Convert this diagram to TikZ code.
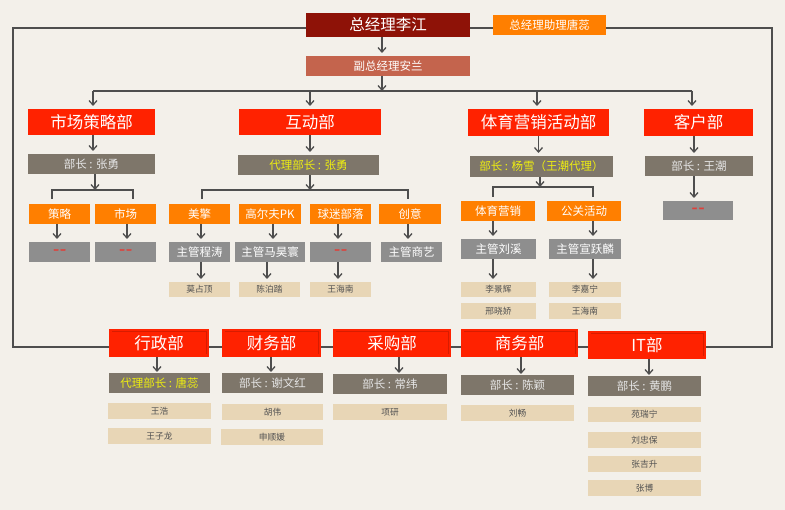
\documentclass[tikz,border=0pt]{standalone}
\usepackage{fontspec}
\setmainfont{Noto Sans CJK SC}
\usetikzlibrary{arrows.meta}
\definecolor{bgc}{HTML}{F3F0EA}
\definecolor{ceoc}{HTML}{8E1207}
\definecolor{orgc}{HTML}{FF7F00}
\definecolor{vpc}{HTML}{C4644D}
\definecolor{redc}{HTML}{FF2200}
\definecolor{redd}{HTML}{D81C00}
\definecolor{headc}{HTML}{7E766A}
\definecolor{grayc}{HTML}{8E8E8E}
\definecolor{beigec}{HTML}{E8D6B6}
\definecolor{linec}{HTML}{4E4E4E}
\definecolor{yelc}{HTML}{EEEE10}
\definecolor{dashc}{HTML}{E0403A}
\newcommand\bx[6]{\node[#1,minimum width=#4pt,minimum height=#5pt] (#2) at (#3) {#6};}
\newcommand\dd{\fontsize{17}{17}\selectfont\addfontfeature{FakeBold=1.5}-\kern1pt-}
\begin{document}
\begin{tikzpicture}[x=1pt,y=-1pt,
 base/.style={inner sep=0pt,outer sep=0pt,anchor=center},
 ceobox/.style={base,fill=ceoc,text=white,font=\fontsize{15.5}{16}\selectfont},
 orbox/.style={base,fill=orgc,text=white,font=\fontsize{11.5}{12}\selectfont},
 vpbox/.style={base,fill=vpc,text=white,font=\fontsize{11.5}{12}\selectfont},
 deptbox/.style={base,fill=redc,text=white,font=\fontsize{16.5}{17}\selectfont},
 bdeptbox/.style={deptbox,path picture={\draw[redd,line width=0.8pt] ([shift={(3pt,-2.5pt)}]path picture bounding box.north west) -| ([shift={(-2.5pt,2.5pt)}]path picture bounding box.south east);}},
 headbox/.style={base,fill=headc,text=white!90!black,font=\fontsize{11.5}{12}\selectfont},
 yheadbox/.style={headbox,text=yelc},
 graybox/.style={base,fill=grayc,text=white,font=\fontsize{11.5}{12}\selectfont},
 dashbox/.style={graybox,text=dashc},
 namebox/.style={base,fill=beigec,text=black!68,font=\fontsize{8.7}{9}\selectfont},
 ln/.style={draw=linec,line width=1.3pt},
 arr/.style={ln,-{Straight Barb[length=4.5pt,width=8pt]}},
 arrg/.style={arr,shorten >=3pt},
]
\path[use as bounding box,fill=bgc] (0,0) rectangle (785,510);

% top
\bx{ceobox}{ceo}{388,25}{164}{24}{总经理李江}
\bx{orbox}{asst}{549.5,25}{113}{20}{总经理助理唐蕊}
\bx{vpbox}{vp}{388,66}{164}{20}{副总经理安兰}

% departments
\bx{deptbox}{mkt}{91.5,122}{127}{26}{市场策略部}
\bx{deptbox}{hd}{310,122}{142}{26}{互动部}
\bx{deptbox}{sp}{538.5,122.5}{141}{27}{体育营销活动部}
\bx{deptbox}{kh}{698.5,122.5}{109}{27}{客户部}

\bx{headbox}{mkth}{91.5,164}{127}{20}{部长 : 张勇}
\bx{yheadbox}{hdh}{308.5,165}{141}{20}{代理部长 : 张勇}
\bx{yheadbox}{sph}{541.5,166.5}{143}{21}{部长 : 杨雪（王潮代理）}
\bx{headbox}{khh}{699,166}{108}{20}{部长 : 王潮}

% market subs
\bx{orbox}{celue}{59.5,214}{61}{20}{策略}
\bx{orbox}{shic}{125.5,214}{61}{20}{市场}
\bx{dashbox}{cld}{59.5,252}{61}{20}{\dd}
\bx{dashbox}{scd}{125.5,252}{61}{20}{\dd}

% interaction subs
\bx{orbox}{mq}{199.5,214}{61}{20}{美擎}
\bx{orbox}{gef}{270,214}{62}{20}{高尔夫PK}
\bx{orbox}{qm}{340.5,214}{61}{20}{球迷部落}
\bx{orbox}{cy}{410,214}{62}{20}{创意}
\bx{graybox}{mqg}{199.5,252}{61}{20}{主管程涛}
\bx{graybox}{gefg}{270,252}{70}{20}{主管马昊寰}
\bx{dashbox}{qmg}{340.5,252}{61}{20}{\dd}
\bx{graybox}{cyg}{411.5,252}{61}{20}{主管商艺}
\bx{namebox}{mqn}{199.5,289.5}{61}{15}{莫占顶}
\bx{namebox}{gefn}{269.5,289.5}{61}{15}{陈泊踏}
\bx{namebox}{qmn}{340.5,289.5}{61}{15}{王海南}

% sports subs
\bx{orbox}{tyyx}{498,211}{74}{20}{体育营销}
\bx{orbox}{ggd}{584,211}{74}{20}{公关活动}
\bx{graybox}{lx}{498.5,249}{75}{20}{主管刘溪}
\bx{graybox}{xyl}{585,249}{72}{20}{主管宣跃麟}
\bx{namebox}{lx1}{498.5,289.5}{75}{15}{李景辉}
\bx{namebox}{lx2}{498.5,311}{75}{16}{邢晓娇}
\bx{namebox}{xy1}{585,289.5}{72}{15}{李嘉宁}
\bx{namebox}{xy2}{585,311}{72}{16}{王海南}

% client sub
\bx{dashbox}{khd}{698,210.5}{70}{19}{\dd}

% bottom row
\bx{bdeptbox}{xz}{159,343}{100}{28}{行政部}
\bx{bdeptbox}{cw}{271.5,343}{99}{28}{财务部}
\bx{bdeptbox}{cg}{392,343}{118}{28}{采购部}
\bx{bdeptbox}{sw}{519.5,343}{117}{28}{商务部}
\bx{bdeptbox}{it}{647,345}{118}{28}{IT部}

\bx{yheadbox}{xzh}{159.5,383}{101}{20}{代理部长 : 唐蕊}
\bx{headbox}{cwh}{272.5,383}{101}{20}{部长 : 谢文红}
\bx{headbox}{cgh}{390,384}{114}{20}{部长 : 常纬}
\bx{headbox}{swh}{517.5,385}{113}{20}{部长 : 陈颖}
\bx{headbox}{ith}{644.5,386}{113}{20}{部长 : 黄鹏}

\bx{namebox}{xz1}{159.5,411}{103}{16}{王浩}
\bx{namebox}{xz2}{159.5,436}{103}{16}{王子龙}
\bx{namebox}{cw1}{272.5,412}{101}{16}{胡伟}
\bx{namebox}{cw2}{272,437}{102}{16}{申顺媛}
\bx{namebox}{cg1}{390,412}{114}{16}{项研}
\bx{namebox}{sw1}{517.5,413}{113}{16}{刘畅}
\bx{namebox}{it1}{644.5,414.5}{113}{15}{苑瑞宁}
\bx{namebox}{it2}{644.5,440}{113}{16}{刘忠保}
\bx{namebox}{it3}{644.5,464}{113}{16}{张吉升}
\bx{namebox}{it4}{644.5,488}{113}{16}{张博}

% frame
\coordinate (fl1) at (13,28);
\coordinate (fl2) at (13,347);
\coordinate (fr1) at (772,28);
\coordinate (fr2) at (772,347);
\draw[ln] ([yshift=-3pt]ceo.west) -- (fl1) -- (fl2) -- (xz.west |- fl2);
\draw[ln] ([yshift=-3pt]ceo.east) -- ([yshift=-3pt]asst.west);
\draw[ln] ([yshift=-3pt]asst.east) -- (fr1) -- (fr2) -- (it.east |- fr2);
\draw[ln] (xz.east |- fl2) -- (cw.west |- fl2);
\draw[ln] (cw.east |- fl2) -- (cg.west |- fl2);
\draw[ln] (cg.east |- fl2) -- (sw.west |- fl2);
\draw[ln] (sw.east |- fl2) -- (it.west |- fl2);

% top arrows and bus
\coordinate (busL) at (93,91);
\coordinate (busR) at (692,91);
\draw[arrg] ([xshift=-6pt]ceo.south) -- ([xshift=-6pt]vp.north);
\draw[arr] ([xshift=-6pt]vp.south) -- ([xshift=-6pt]vp.south |- busL);
\draw[ln] (busL) -- (busR);
\draw[arrg] (busL) -- (busL |- mkt.north);
\draw[arrg] (hd.north |- busL) -- (hd.north);
\draw[arrg] ([xshift=-1.5pt]sp.north |- busL) -- ([xshift=-1.5pt]sp.north);
\draw[arrg] (busR) -- (busR |- kh.north);

% dept -> head
\draw[arrg] ([xshift=1.5pt]mkt.south) -- ([xshift=1.5pt]mkt.south |- mkth.north);
\draw[arrg] (hd.south) -- (hd.south |- hdh.north);
\draw[arrg] (sp.south) -- (sp.south |- sph.north);
\draw[arrg] ([xshift=-4.5pt]kh.south) -- ([xshift=-4.5pt]kh.south |- khh.north);
\draw[arrg] ([xshift=-5pt]khh.south) -- ([xshift=-5pt]khh.south |- khd.north);

% market brackets
\coordinate (mbl) at (52,190);
\coordinate (mbr) at (133,190);
\draw[arr] ([xshift=3.5pt]mkth.south) -- ([xshift=3.5pt]mkth.south |- mbl);
\draw[ln] ([yshift=-9pt]mbl) -- (mbl) -- (mbr) -- ([yshift=-9pt]mbr);
\draw[arrg] ([xshift=-2.5pt]celue.south) -- ([xshift=-2.5pt]cld.north);
\draw[arrg] ([xshift=1.5pt]shic.south) -- ([xshift=1.5pt]scd.north);

% interaction brackets
\coordinate (hbl) at (202,190);
\coordinate (hbr) at (408,190);
\draw[arr] ([xshift=1.5pt]hdh.south) -- ([xshift=1.5pt]hdh.south |- hbl);
\draw[ln] ([yshift=-9pt]hbl) -- (hbl) -- (hbr) -- ([yshift=-9pt]hbr);
\draw[arrg] ([xshift=1.5pt]mq.south) -- ([xshift=1.5pt]mqg.north);
\draw[arrg] ([xshift=3pt]gef.south) -- ([xshift=3pt]gef.south |- gefg.north);
\draw[arrg] ([xshift=-2.5pt]qm.south) -- ([xshift=-2.5pt]qmg.north);
\draw[arrg] ([xshift=-2pt]cy.south) -- ([xshift=-2pt]cy.south |- cyg.north);
\draw[arrg] ([xshift=1.5pt]mqg.south) -- ([xshift=1.5pt]mqn.north);
\draw[arrg] ([xshift=-3pt]gefg.south) -- ([xshift=-3pt]gefg.south |- gefn.north);
\draw[arrg] ([xshift=-2.5pt]qmg.south) -- ([xshift=-2.5pt]qmn.north);

% sports brackets
\coordinate (sbl) at (493,187);
\coordinate (sbr) at (593,187);
\draw[arr] ([xshift=-1.5pt]sph.south) -- ([xshift=-1.5pt]sph.south |- sbl);
\draw[ln] ([yshift=-10pt]sbl) -- (sbl) -- (sbr) -- ([yshift=-10pt]sbr);
\draw[arrg] ([xshift=-5pt]tyyx.south) -- ([xshift=-5pt]tyyx.south |- lx.north);
\draw[arrg] ([xshift=9pt]ggd.south) -- ([xshift=9pt]ggd.south |- xyl.north);
\draw[arrg] ([xshift=-5.5pt]lx.south) -- ([xshift=-5.5pt]lx.south |- lx1.north);
\draw[arrg] ([xshift=8pt]xyl.south) -- ([xshift=8pt]xyl.south |- xy1.north);

% bottom dept arrows
\draw[arr,shorten >=1pt] ([xshift=-2pt]xz.south) -- ([xshift=-2pt]xz.south |- xzh.north);
\draw[arr,shorten >=1pt] ([xshift=-0.5pt]cw.south) -- ([xshift=-0.5pt]cw.south |- cwh.north);
\draw[arr,shorten >=1pt] ([xshift=7pt]cg.south) -- ([xshift=7pt]cg.south |- cgh.north);
\draw[arr,shorten >=1pt] ([xshift=1.5pt]sw.south) -- ([xshift=1.5pt]sw.south |- swh.north);
\draw[arr,shorten >=1pt] ([xshift=2pt]it.south) -- ([xshift=2pt]it.south |- ith.north);
\end{tikzpicture}
\end{document}
